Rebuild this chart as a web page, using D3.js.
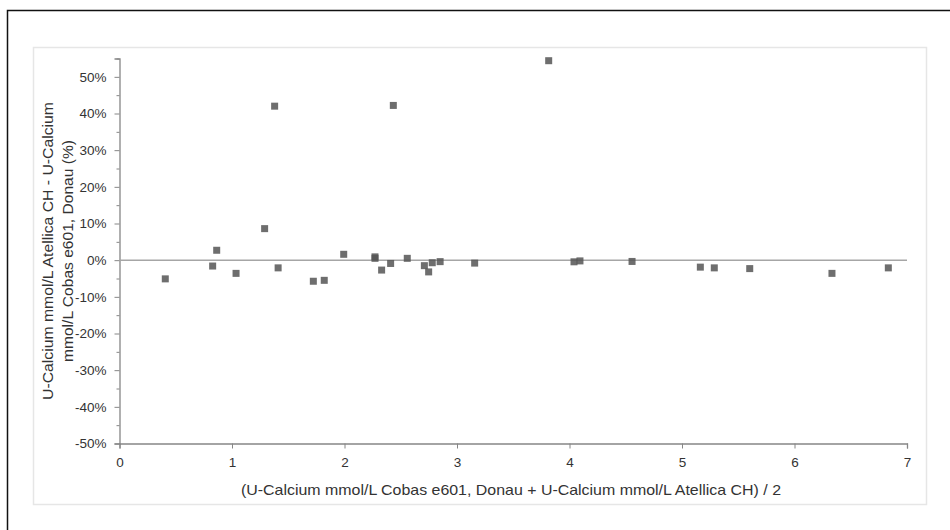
<!DOCTYPE html>
<html>
<head>
<meta charset="utf-8">
<script src="https://cdn.jsdelivr.net/npm/d3@7"></script>
<style>
  html, body { margin: 0; padding: 0; background: #fff; }
  svg { display: block; }
  text { font-family: "Liberation Sans Narrow", "Liberation Sans", Arial, sans-serif; fill: #333; }
</style>
</head>
<body>
<svg id="chart" width="950" height="530"></svg>
<script>
// Mean of the two methods (mmol/L)
const meanValues = [
  0.407, 0.828, 0.864, 1.036, 1.290, 1.379, 1.410, 1.723, 1.820, 1.993,
  2.271, 2.271, 2.330, 2.410, 2.434, 2.558, 2.710, 2.748, 2.780, 2.850,
  3.157, 3.815, 4.040, 4.093, 4.556, 5.163, 5.287, 5.602, 6.333, 6.834
];
// Relative difference Atellica CH vs Cobas e601 (%)
const diffPercent = [
  -5.1, -1.6, 2.7, -3.6, 8.6, 42.0, -2.1, -5.75, -5.5, 1.6,
  0.9, 0.5, -2.7, -0.9, 42.2, 0.5, -1.5, -3.2, -0.7, -0.4,
  -0.8, 54.4, -0.45, -0.2, -0.35, -1.9, -2.1, -2.3, -3.6, -2.1
];
const xTickValues = [0, 1, 2, 3, 4, 5, 6, 7];
const yTickValues = [-50, -40, -30, -20, -10, 0, 10, 20, 30, 40, 50];
const yMinorTickValues = [-45, -35, -25, -15, -5, 5, 15, 25, 35, 45, 55];
const xTitle = "(U-Calcium mmol/L Cobas e601, Donau + U-Calcium mmol/L Atellica CH) / 2";
const yTitleLines = ["U-Calcium mmol/L Atellica CH - U-Calcium", "mmol/L Cobas e601, Donau (%)"];

const svg = d3.select("#chart");

// outer frame (top and left edges)
svg.append("path")
  .attr("d", "M7.5,540 L7.5,10.5 L960,10.5")
  .attr("fill", "none").attr("stroke", "#111").attr("stroke-width", 1.5);

// chart area border
svg.append("rect")
  .attr("x", 33.5).attr("y", 47.5).attr("width", 893).attr("height", 457)
  .attr("fill", "#fff").attr("stroke", "#e6e6e6").attr("stroke-width", 1.5);

const x = d3.scaleLinear().domain([0, 7]).range([119.5, 907]);
const y = d3.scaleLinear().domain([-50, 55]).range([443.5, 58.5]);

// y axis: minor ticks
svg.append("g")
  .attr("transform", `translate(${x(0)},0)`)
  .call(d3.axisLeft(y).tickValues(yMinorTickValues).tickSize(3).tickFormat(""))
  .call(g => g.select(".domain").remove())
  .call(g => g.selectAll("line").attr("stroke", "#868686"));

// y axis: major ticks and labels
svg.append("g")
  .attr("transform", `translate(${x(0)},0)`)
  .call(d3.axisLeft(y).tickValues(yTickValues).tickSize(5).tickPadding(8)
    .tickFormat(d => d + "%"))
  .call(g => g.select(".domain").attr("stroke", "#868686").attr("stroke-width", 1.3))
  .call(g => g.selectAll("line").attr("stroke", "#868686"))
  .call(g => g.selectAll("text").style("font-size", "13.5px").attr("fill", "#333"));

// x axis
svg.append("g")
  .attr("transform", `translate(0,${y(-50)})`)
  .call(d3.axisBottom(x).tickValues(xTickValues).tickSize(5).tickPadding(9)
    .tickFormat(d3.format("d")))
  .call(g => g.select(".domain").attr("stroke", "#868686").attr("stroke-width", 1.3))
  .call(g => g.selectAll("line").attr("stroke", "#868686"))
  .call(g => g.selectAll("text").style("font-size", "13.5px").attr("fill", "#333"));

// zero reference line
svg.append("line")
  .attr("x1", x(0)).attr("x2", x(7))
  .attr("y1", y(0)).attr("y2", y(0))
  .attr("stroke", "#a6a6a6").attr("stroke-width", 1.5);

// markers
const size = 7;
svg.append("g").selectAll("rect")
  .data(meanValues.map((m, i) => [m, diffPercent[i]]))
  .join("rect")
  .attr("x", d => x(d[0]) - size / 2)
  .attr("y", d => y(d[1]) - size / 2)
  .attr("width", size).attr("height", size)
  .attr("fill", "#555").attr("fill-opacity", 0.85);

// axis titles
svg.append("text")
  .attr("x", 511).attr("y", 495)
  .attr("text-anchor", "middle")
  .attr("textLength", 540).attr("lengthAdjust", "spacingAndGlyphs")
  .style("font-size", "14.5px")
  .text(xTitle);

yTitleLines.forEach((line, i) => {
  svg.append("text")
    .attr("transform", `translate(${53 + i * 20},251) rotate(-90)`)
    .attr("text-anchor", "middle")
    .attr("textLength", i === 0 ? 298 : 222).attr("lengthAdjust", "spacingAndGlyphs")
    .style("font-size", "14.5px")
    .text(line);
});
</script>
</body>
</html>
